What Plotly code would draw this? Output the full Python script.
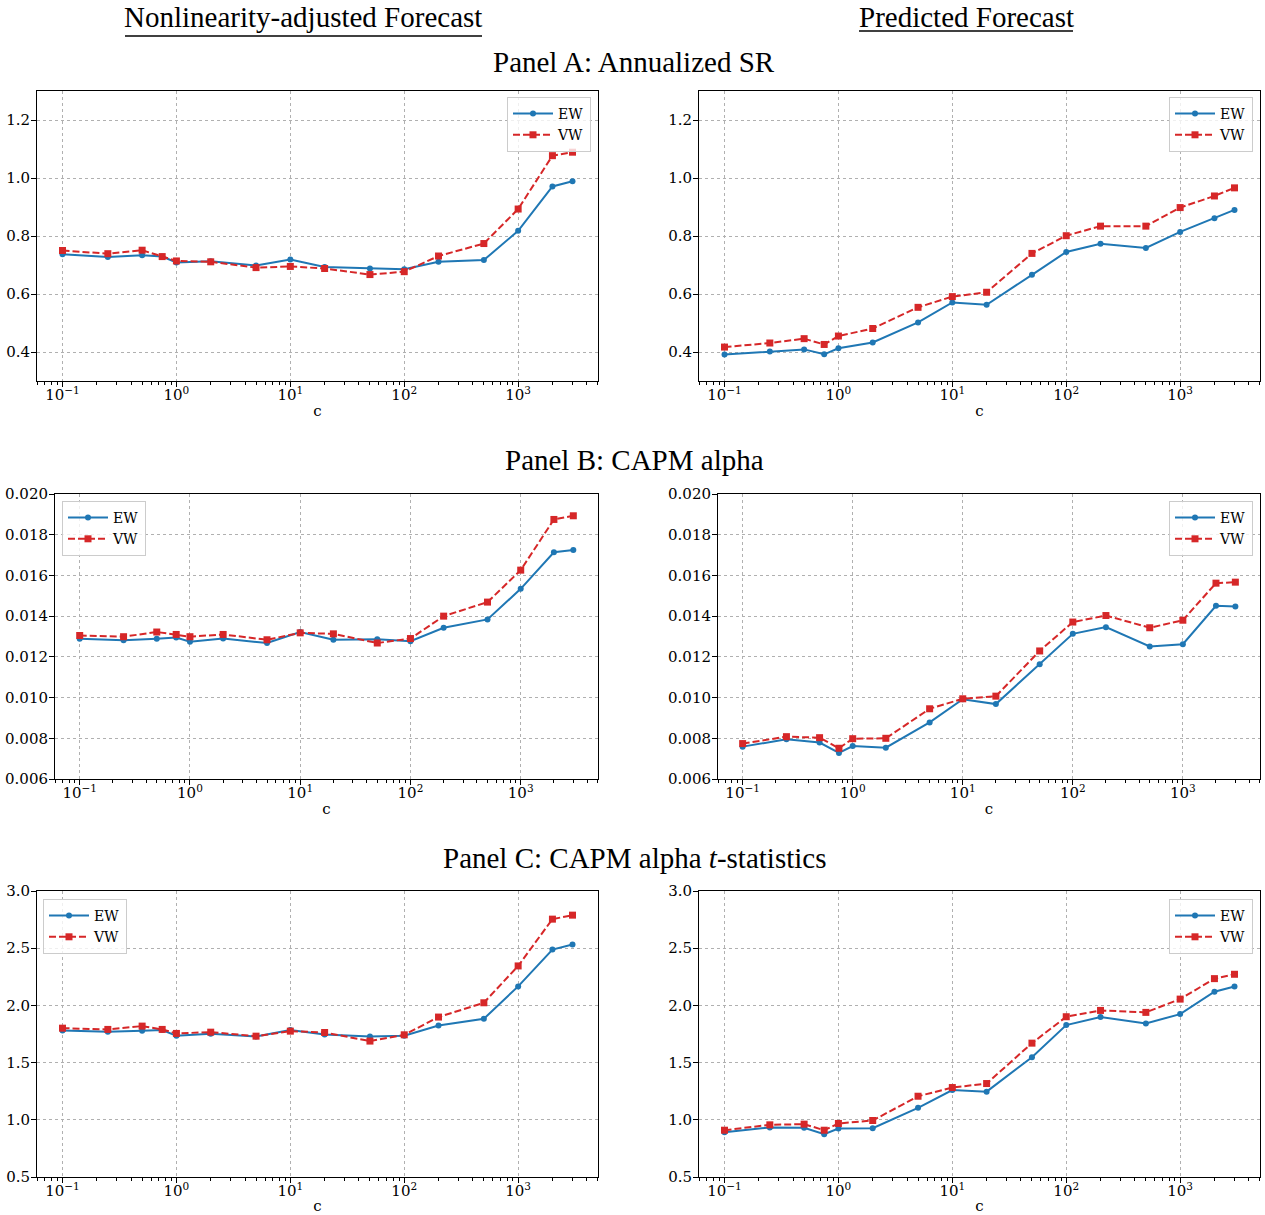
import plotly.graph_objects as go

# ---------------- data ----------------
c_values = [0.1, 0.25, 0.5, 0.75, 1, 2, 5, 10, 20, 50, 100, 200, 500, 1000, 2000, 3000]

sr_nonlin_ew = [0.737, 0.728, 0.734, 0.729, 0.709, 0.713, 0.698, 0.719, 0.693, 0.688, 0.685, 0.711, 0.717, 0.818, 0.971, 0.989]
sr_nonlin_vw = [0.750, 0.739, 0.751, 0.729, 0.714, 0.711, 0.691, 0.695, 0.688, 0.667, 0.677, 0.731, 0.774, 0.893, 1.077, 1.089]
sr_pred_ew = [0.391, 0.402, 0.409, 0.392, 0.413, 0.433, 0.502, 0.571, 0.563, 0.666, 0.745, 0.773, 0.759, 0.814, 0.861, 0.890]
sr_pred_vw = [0.417, 0.431, 0.446, 0.426, 0.455, 0.481, 0.554, 0.591, 0.606, 0.740, 0.801, 0.834, 0.834, 0.898, 0.938, 0.966]

alpha_nonlin_ew = [0.01289, 0.01281, 0.01289, 0.01295, 0.01274, 0.01290, 0.01268, 0.01322, 0.01284, 0.01286, 0.01277, 0.01343, 0.01384, 0.01534, 0.01714, 0.01725]
alpha_nonlin_vw = [0.01305, 0.01299, 0.01322, 0.01310, 0.01299, 0.01310, 0.01284, 0.01318, 0.01313, 0.01268, 0.01290, 0.01400, 0.01469, 0.01626, 0.01875, 0.01893]
alpha_pred_ew = [0.00759, 0.00795, 0.00779, 0.00728, 0.00762, 0.00754, 0.00878, 0.00992, 0.00968, 0.01164, 0.01313, 0.01346, 0.01251, 0.01262, 0.01451, 0.01447]
alpha_pred_vw = [0.00774, 0.00808, 0.00803, 0.00751, 0.00798, 0.00800, 0.00945, 0.00994, 0.01007, 0.01229, 0.01371, 0.01403, 0.01343, 0.01380, 0.01562, 0.01567]

tstat_nonlin_ew = [1.781, 1.769, 1.778, 1.784, 1.734, 1.752, 1.728, 1.784, 1.746, 1.728, 1.734, 1.825, 1.883, 2.166, 2.488, 2.532]
tstat_nonlin_vw = [1.801, 1.790, 1.819, 1.790, 1.755, 1.766, 1.731, 1.775, 1.763, 1.688, 1.743, 1.898, 2.023, 2.345, 2.754, 2.789]
tstat_pred_ew = [0.892, 0.933, 0.930, 0.874, 0.924, 0.927, 1.105, 1.260, 1.246, 1.547, 1.828, 1.898, 1.842, 1.924, 2.120, 2.166]
tstat_pred_vw = [0.909, 0.956, 0.962, 0.909, 0.968, 0.994, 1.206, 1.282, 1.317, 1.670, 1.901, 1.956, 1.939, 2.055, 2.234, 2.272]

x_tick_vals = [0.1, 1, 10, 100, 1000]
x_tick_text = ["10<sup>\u22121</sup>", "10<sup>0</sup>", "10<sup>1</sup>", "10<sup>2</sup>", "10<sup>3</sup>"]
x_minor_vals = [0.06, 0.07, 0.08, 0.09,
                0.2, 0.3, 0.4, 0.5, 0.6, 0.7, 0.8, 0.9,
                2, 3, 4, 5, 6, 7, 8, 9,
                20, 30, 40, 50, 60, 70, 80, 90,
                200, 300, 400, 500, 600, 700, 800, 900,
                2000, 3000, 4000, 5000]

ya_ticks = [0.4, 0.6, 0.8, 1.0, 1.2]
yb_ticks = [0.006, 0.008, 0.010, 0.012, 0.014, 0.016, 0.018, 0.020]
yc_ticks = [0.5, 1.0, 1.5, 2.0, 2.5, 3.0]

column_titles = ["Nonlinearity-adjusted Forecast", "Predicted Forecast"]
panel_titles = ["Panel A: Annualized SR", "Panel B: CAPM alpha", "Panel C: CAPM alpha <i>t</i>-statistics"]

# ---------------- layout helpers ----------------
W, H = 1265, 1215
TICK_FONT = dict(family="DejaVu Serif", size=15, color="black")
TITLE_FONT = dict(family="Liberation Serif", size=29, color="black")

BLUE = "#1f77b4"
RED = "#d62728"

# (x0, x1, ytop, ybottom) in pixels
panels = [
    (37, 598, 91, 381), (699, 1260, 91, 381),
    (55, 598, 494, 779), (718, 1260, 494, 779),
    (37, 598, 891, 1177), (699, 1260, 891, 1177),
]
series = [
    (sr_nonlin_ew, sr_nonlin_vw), (sr_pred_ew, sr_pred_vw),
    (alpha_nonlin_ew, alpha_nonlin_vw), (alpha_pred_ew, alpha_pred_vw),
    (tstat_nonlin_ew, tstat_nonlin_vw), (tstat_pred_ew, tstat_pred_vw),
]
yranges = [[0.3, 1.3], [0.3, 1.3], [0.006, 0.020], [0.006, 0.020], [0.5, 3.0], [0.5, 3.0]]
yticks = [ya_ticks, ya_ticks, yb_ticks, yb_ticks, yc_ticks, yc_ticks]
yformats = [".1f", ".1f", ".3f", ".3f", ".1f", ".1f"]
legend_pos = [("right", 591, 97), ("right", 1253, 97),
              ("left", 62, 501), ("right", 1253, 501),
              ("left", 43, 899), ("right", 1253, 899)]

fig = go.Figure()
layout = dict(
    width=W, height=H,
    margin=dict(l=0, r=0, t=0, b=0, autoexpand=False),
    paper_bgcolor="white", plot_bgcolor="white",
    font=TICK_FONT,
)

for i, ((x0, x1, yt, yb), (ew, vw)) in enumerate(zip(panels, series)):
    k = i + 1
    xa = "x" if k == 1 else f"x{k}"
    ya = "y" if k == 1 else f"y{k}"
    lg = "legend" if k == 1 else f"legend{k}"
    fig.add_trace(go.Scatter(
        x=c_values, y=ew, name="EW", mode="lines+markers",
        line=dict(color=BLUE, width=2),
        marker=dict(symbol="circle", size=6, color=BLUE),
        xaxis=xa, yaxis=ya, legend=lg, showlegend=True))
    fig.add_trace(go.Scatter(
        x=c_values, y=vw, name="VW", mode="lines+markers",
        line=dict(color=RED, width=2, dash="7px,3px"),
        marker=dict(symbol="square", size=7, color=RED),
        xaxis=xa, yaxis=ya, legend=lg, showlegend=True))

    axis_common = dict(
        showline=True, linecolor="black", linewidth=1, mirror=True,
        ticks="outside", ticklen=5, tickwidth=1, tickcolor="black",
        showgrid=True, gridcolor="#b0b0b0", gridwidth=0.8, griddash="dot",
        zeroline=False, tickfont=TICK_FONT, automargin=False,
    )
    layout[f"xaxis{k}"] = dict(
        axis_common, type="log", range=[-1.224, 3.701],
        domain=[x0 / W, x1 / W], anchor=ya,
        tickmode="array", tickvals=x_tick_vals, ticktext=x_tick_text,
        ticklabelstandoff=-5,
        minor=dict(tickmode="array", tickvals=x_minor_vals, ticks="outside",
                   ticklen=3, tickwidth=0.8, tickcolor="black", showgrid=False),
        title=dict(text="c", font=TICK_FONT, standoff=2),
    )
    layout[f"yaxis{k}"] = dict(
        axis_common, range=yranges[i],
        domain=[1 - yb / H, 1 - yt / H], anchor=xa,
        tickmode="array", tickvals=yticks[i], tickformat=yformats[i],
        ticklabelstandoff=-2,
    )
    side, lx, ly = legend_pos[i]
    layout[lg] = dict(
        x=lx / W, y=1 - ly / H, xanchor=side, yanchor="top",
        bgcolor="rgba(255,255,255,0.8)", bordercolor="#cccccc", borderwidth=1,
        font=dict(family="DejaVu Serif", size=14, color="black"),
        itemwidth=40, tracegroupgap=0,
    )

fig.update_layout(**layout)

annotations = []
# column headers
annotations.append(dict(text=column_titles[0], x=303 / W, y=1 - 17 / H, xref="paper", yref="paper",
                        showarrow=False, font=TITLE_FONT, xanchor="center", yanchor="middle"))
annotations.append(dict(text=column_titles[1], x=966 / W, y=1 - 17 / H, xref="paper", yref="paper",
                        showarrow=False, font=TITLE_FONT, xanchor="center", yanchor="middle"))
for t, yc in zip(panel_titles, [62, 460, 858]):
    annotations.append(dict(text=t, x=634 / W, y=1 - yc / H, xref="paper", yref="paper",
                            showarrow=False, font=TITLE_FONT, xanchor="center", yanchor="middle"))
fig.update_layout(annotations=annotations)

# underlines of the column headers
fig.add_shape(type="line", xref="paper", yref="paper",
              x0=125 / W, x1=482 / W, y0=1 - 36 / H, y1=1 - 36 / H,
              line=dict(color="black", width=1.5))
fig.add_shape(type="line", xref="paper", yref="paper",
              x0=859 / W, x1=1073 / W, y0=1 - 31 / H, y1=1 - 31 / H,
              line=dict(color="black", width=1.5))

fig.write_html(
    "out.html",
    config={"displayModeBar": False},
    post_script="document.body.style.margin='0';document.body.style.overflow='hidden';",
)
